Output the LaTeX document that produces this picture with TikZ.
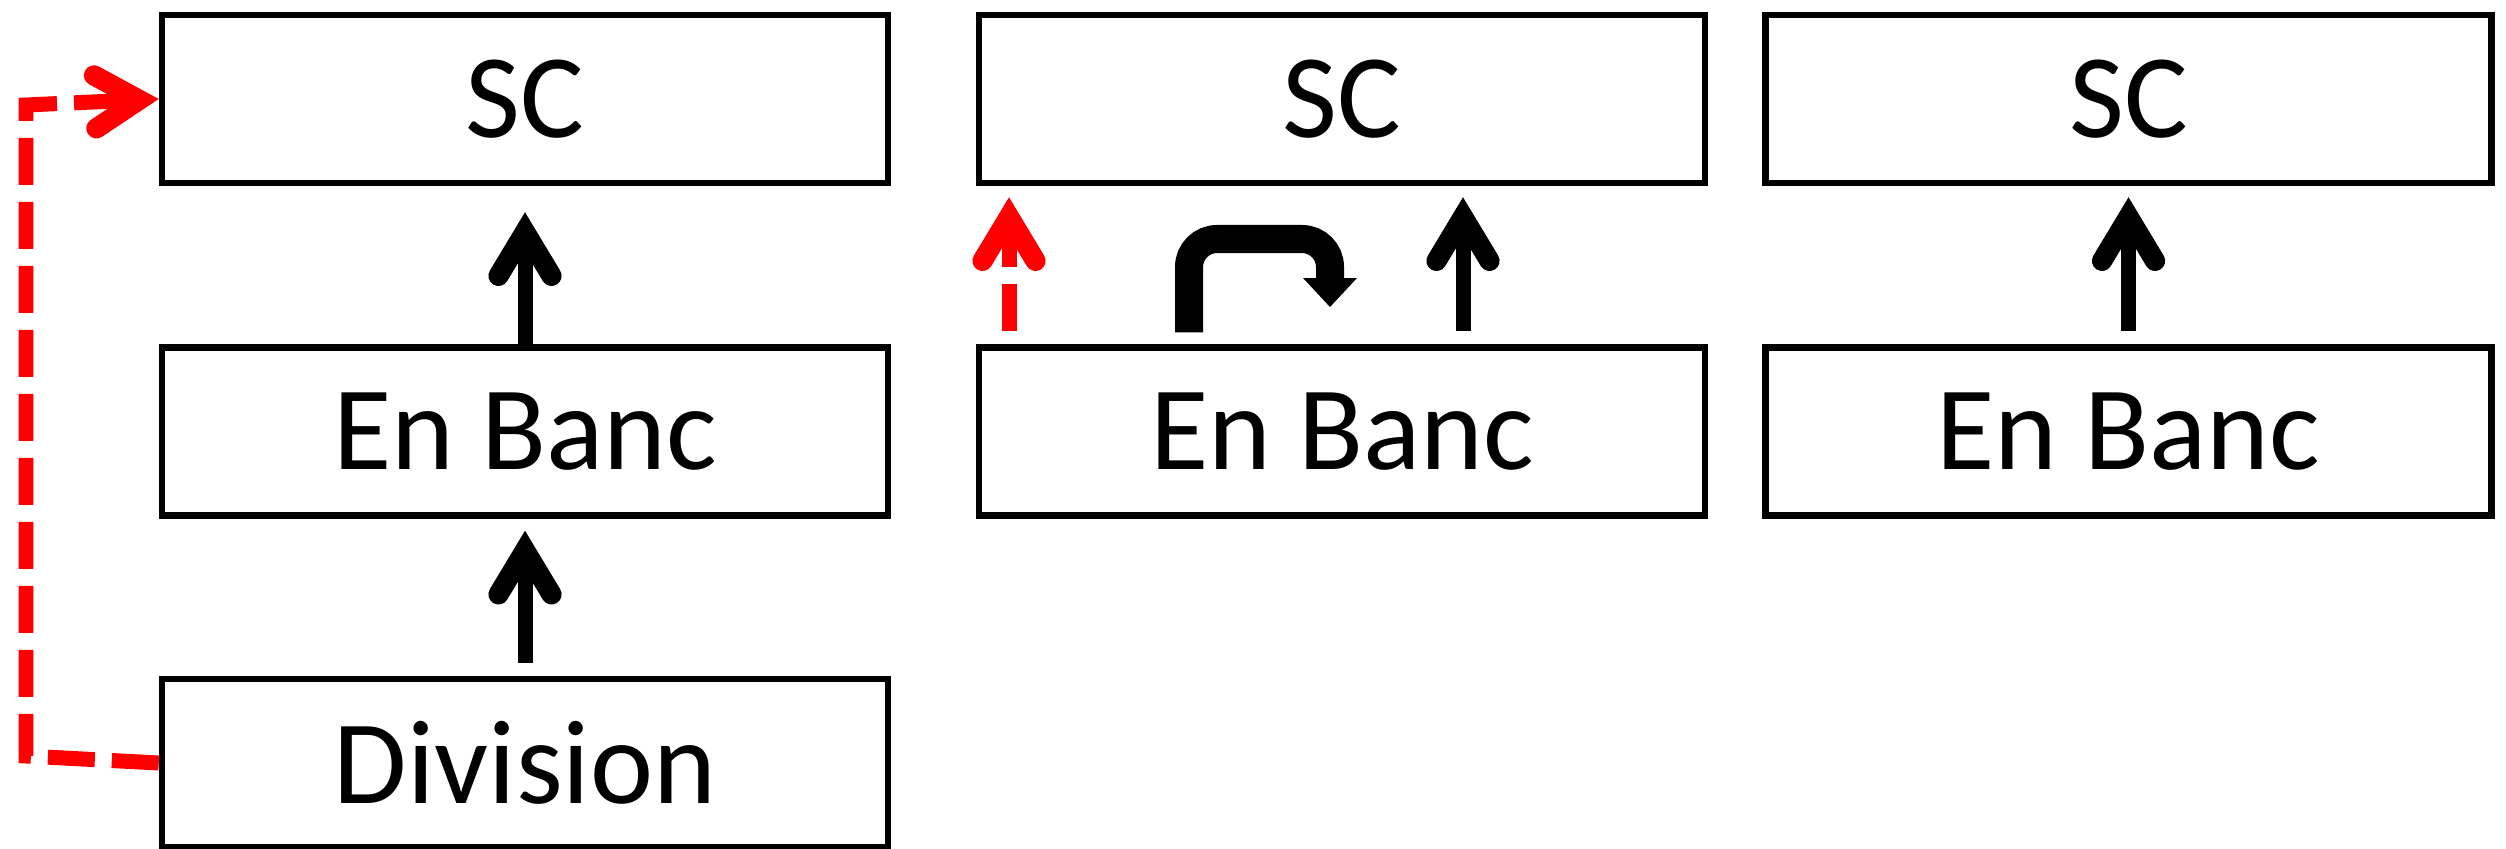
\documentclass[tikz,border=0pt]{standalone}
\usepackage{fontspec}
\setmainfont{Carlito}
\usetikzlibrary{arrows.meta}

\tikzset{
  court/.style={draw, line width=0.065cm, minimum width=7.26cm,
    minimum height=1.68cm, inner sep=0pt, font=\fontsize{34}{40}\selectfont},
  appeal/.style={line width=0.15cm,
    -{Straight Barb[length=0.44cm,width=0.53cm,line width=0pt 1.35,
      line cap=round,line join=miter]}},
  redappeal/.style={appeal, red, dash pattern=on 0.47cm off 0.17cm},
  stay/.style={line width=0.28cm, rounded corners=0.28cm,
    -{Triangle[length=0.29cm,width=0.54cm,line width=0pt]}}
}

\begin{document}
\begin{tikzpicture}
  \useasboundingbox (0,0) rectangle (25.06,-8.49);
  \node (sc1)      at (5.25,-0.99)    [court] {SC};
  \node (enbanc1)  at (5.25,-4.315)   [court] {En Banc};
  \node (division) at (5.25,-7.63)    [court] {Division};
  \node (sc2)      at (13.42,-0.99)   [court] {SC};
  \node (enbanc2)  at (13.42,-4.315)  [court] {En Banc};
  \node (sc3)      at (21.285,-0.99)  [court] {SC};
  \node (enbanc3)  at (21.285,-4.315) [court] {En Banc};

  \coordinate (retA)  at (0.26,-7.56);
  \coordinate (retB)  at (0.26,-1.05);
  \coordinate (stayA) at (11.89,-2.39);
  \coordinate (stayB) at (13.30,-2.39);
  \coordinate (stayC) at (13.30,-3.07);

  %\draw[style=help lines] (0,0) grid (25,-8);
  \draw[appeal, shorten >=0.26cm] (enbanc1.north) -- (sc1.south);
  \draw[appeal, shorten <=0.13cm, shorten >=0.12cm]
  (division.north) -- (enbanc1.south);
  \draw[redappeal] (division.west) -- (retA) -- (retB) -- (sc1.west);

  \draw[redappeal, shorten <=0.13cm, shorten >=0.11cm]
  ([xshift=-3.33cm]enbanc2.north) -- ([xshift=-3.33cm]sc2.south);
  \draw[appeal, shorten <=0.13cm, shorten >=0.11cm]
  ([xshift=1.21cm]enbanc2.north) -- ([xshift=1.21cm]sc2.south);
  \draw[stay] ([xshift=-1.53cm,yshift=0.12cm]enbanc2.north)
  -- (stayA) -- (stayB) -- (stayC);

  \draw[appeal, shorten <=0.13cm, shorten >=0.11cm]
  (enbanc3.north) -- (sc3.south);
\end{tikzpicture}
\end{document}
